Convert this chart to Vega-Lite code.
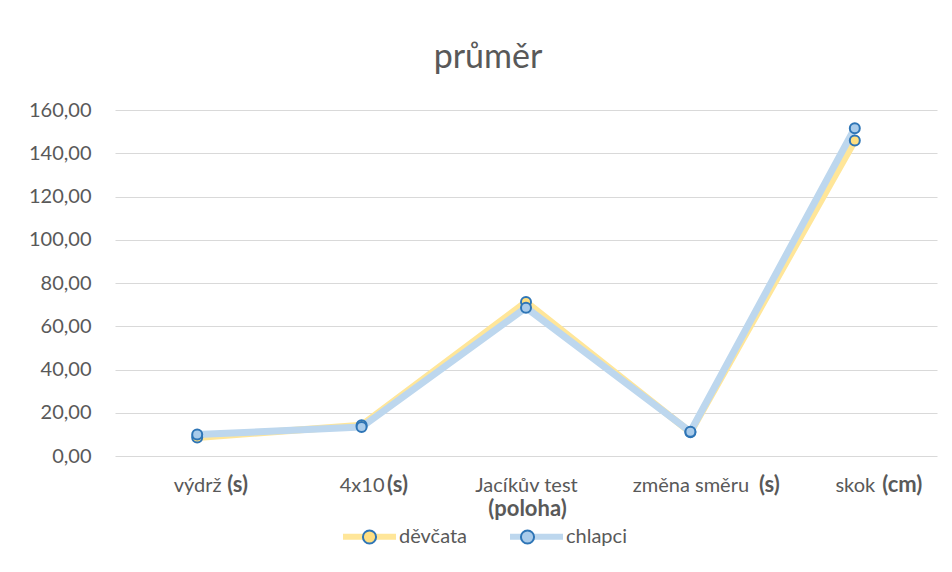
{
  "$schema": "https://vega.github.io/schema/vega-lite/v6.json",
  "width": 822,
  "height": 346,
  "autosize": {"type": "none"},
  "padding": {"left": 115, "top": 110, "right": 15, "bottom": 116},
  "background": "white",
  "title": {
    "text": "průměr",
    "fontSize": 34,
    "fontWeight": "normal",
    "color": "#595959",
    "anchor": "middle",
    "frame": "group",
    "baseline": "alphabetic",
    "offset": -2,
    "dx": -38
  },
  "data": {
    "values": [
      {"test": "výdrž", "skupina": "děvčata", "prumer": 8.6},
      {"test": "4x10", "skupina": "děvčata", "prumer": 14.2},
      {"test": "Jacíkův test", "skupina": "děvčata", "prumer": 71.2},
      {"test": "změna směru", "skupina": "děvčata", "prumer": 11.0},
      {"test": "skok", "skupina": "děvčata", "prumer": 145.9},
      {"test": "výdrž", "skupina": "chlapci", "prumer": 9.9},
      {"test": "4x10", "skupina": "chlapci", "prumer": 13.4},
      {"test": "Jacíkův test", "skupina": "chlapci", "prumer": 68.6},
      {"test": "změna směru", "skupina": "chlapci", "prumer": 11.2},
      {"test": "skok", "skupina": "chlapci", "prumer": 151.6}
    ]
  },
  "encoding": {
    "y": {
      "field": "prumer",
      "type": "quantitative",
      "scale": {"domain": [0, 160], "nice": false},
      "axis": {
        "title": null,
        "values": [0, 20, 40, 60, 80, 100, 120, 140, 160],
        "labelExpr": "replace(format(datum.value, '.2f'), '.', ',')",
        "labelFontSize": 20,
        "labelColor": "#595959",
        "labelPadding": 24,
        "domain": false,
        "ticks": false,
        "tickSize": 0,
        "grid": true,
        "gridColor": "#D9D9D9",
        "gridWidth": 1.2
      }
    }
  },
  "layer": [
    {
      "mark": {"type": "line", "strokeWidth": 7, "strokeJoin": "round", "strokeCap": "round"},
      "encoding": {
        "x": {
          "field": "test",
          "type": "nominal",
          "sort": ["výdrž", "4x10", "Jacíkův test", "změna směru", "skok"],
          "scale": {"type": "point", "padding": 0.5},
          "axis": {
            "title": null,
            "orient": "bottom",
            "labelAngle": 0,
            "labelFontSize": 20,
            "labelColor": "#595959",
            "labelPadding": 19.5,
            "labelOverlap": false,
            "domain": false,
            "ticks": false,
            "tickSize": 0,
            "grid": false
          }
        },
        "stroke": {
          "field": "skupina",
          "type": "nominal",
          "scale": {"domain": ["děvčata", "chlapci"], "range": ["#FFE699", "#BDD7EE"]},
          "legend": {
            "title": null,
            "orient": "none",
            "direction": "horizontal",
            "legendX": 225,
            "legendY": 397,
            "padding": 0,
            "symbolType": "stroke",
            "symbolSize": 2809,
            "symbolStrokeWidth": 6,
            "labelOffset": 0,
            "columnPadding": 30,
            "labelFontSize": 20,
            "labelColor": "#595959"
          }
        }
      }
    },
    {
      "mark": {"type": "point", "filled": true, "size": 100, "stroke": "#2E75B6", "strokeWidth": 2, "opacity": 1},
      "encoding": {
        "x": {
          "field": "test",
          "type": "nominal",
          "sort": ["výdrž", "4x10", "Jacíkův test", "změna směru", "skok"],
          "scale": {"type": "point", "padding": 0.5},
          "axis": {
            "title": null,
            "orient": "bottom",
            "labelAngle": 0,
            "labelExpr": "datum.value === 'Jacíkův test' ? '(poloha)' : datum.value === 'skok' ? '(cm)' : '(s)'",
            "labelFontSize": 22,
            "labelFontWeight": "bold",
            "labelColor": "#595959",
            "labelAlign": {"condition": {"test": "datum.value === 'Jacíkův test'", "value": "center"}, "value": "left"},
            "labelOffset": {
              "condition": [
                {"test": "datum.value === 'výdrž'", "value": 29.5},
                {"test": "datum.value === '4x10'", "value": 25},
                {"test": "datum.value === 'Jacíkův test'", "value": 1},
                {"test": "datum.value === 'změna směru'", "value": 68}
              ],
              "value": 27
            },
            "labelPadding": {"condition": {"test": "datum.value === 'Jacíkův test'", "value": 42}, "value": 18},
            "labelOverlap": false,
            "domain": false,
            "ticks": false,
            "tickSize": 0,
            "grid": false
          }
        },
        "fill": {
          "field": "skupina",
          "type": "nominal",
          "sort": "descending",
          "scale": {"range": ["#FFDF80", "#A9CBEA"]},
          "legend": {
            "title": null,
            "orient": "none",
            "direction": "horizontal",
            "legendX": 225,
            "legendY": 397,
            "padding": 0,
            "symbolType": "M0.23,0A0.23,0.23,0,1,1,-0.23,0A0.23,0.23,0,1,1,0.23,0Z",
            "symbolSize": 3249,
            "symbolStrokeColor": "#2E75B6",
            "symbolStrokeWidth": 2,
            "symbolOpacity": 1,
            "labelOffset": 0,
            "columnPadding": 30,
            "labelFontSize": 20,
            "labelColor": "#595959",
            "labelOpacity": 0
          }
        }
      }
    }
  ],
  "resolve": {"axis": {"x": "independent"}},
  "config": {
    "font": "Lato",
    "view": {"stroke": null}
  }
}
